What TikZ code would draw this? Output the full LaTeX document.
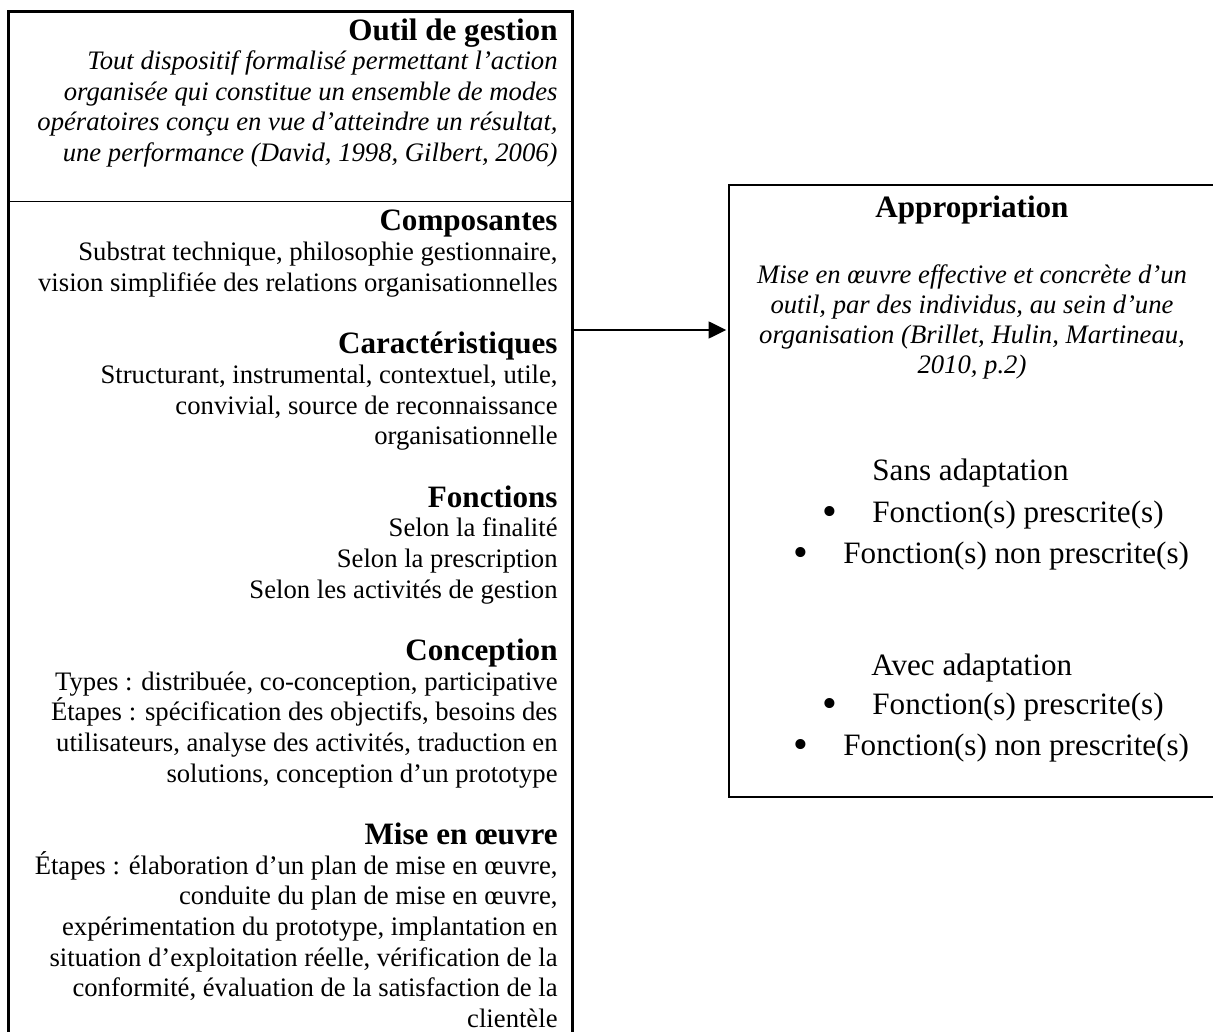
\documentclass[tikz,border=0pt]{standalone}
\usepackage{fontspec}
\setmainfont{Liberation Serif}
\usetikzlibrary{arrows.meta,fit}
\begin{document}
\begin{tikzpicture}[x=0.45pt,y=-0.45pt,
  body/.style={font=\fontsize{12}{13.8}\selectfont, inner sep=0pt, anchor=base east},
  ital/.style={font=\fontsize{12}{13.8}\selectfont\itshape, inner sep=0pt},
  head/.style={font=\fontsize{14}{16}\selectfont\bfseries, inner sep=0pt},
  big/.style={font=\fontsize{14}{16}\selectfont, inner sep=0pt},
  bul/.style={font=\fontsize{19}{20}\selectfont, inner sep=0pt, anchor=base},
  area/.style={inner sep=0pt, draw=none},
  frame/.style={line width=1.2pt, line cap=butt},
  thinframe/.style={line width=0.9pt, line cap=butt},
  divline/.style={line width=0.6pt},
  arrowline/.style={line width=1.2pt, -{Triangle[length=8pt,width=7.5pt]}, shorten >=1pt}]
\useasboundingbox (0,0) rectangle (1213,1032);
% boxes
\node[area, fit={(9,12) (572,201)}] (outil) {};
\node[area, fit={(9,201) (572,1032)}] (comp) {};
\node[area, fit={(729,185) (1213,797)}] (appro) {};
\draw[frame] (comp.south west) -- (outil.north west) -- (outil.north east) -- (comp.south east);
\draw[divline] (outil.south west) -- (outil.south east);
\draw[thinframe] (appro.north east) -- (appro.north west) -- (appro.south west) -- (appro.south east);
% arrow
\coordinate (ay) at (0,330);
\draw[arrowline] (comp.east |- ay) -- (appro.west |- ay);
% left column, top part
\node[head, anchor=base east] (h0) at (558,41) {Outil de gestion};
\node[ital, anchor=base east] (t1) at (558,70) {Tout dispositif formalisé permettant l’action};
\node[ital, anchor=base east] (t2) at (558,101) {organisée qui constitue un ensemble de modes};
\node[ital, anchor=base east] (t3) at (558,131) {opératoires conçu en vue d’atteindre un résultat,};
\node[ital, anchor=base east] (t4) at (558,162) {une performance (David, 1998, Gilbert, 2006)};
% left column, lower part
\node[head, anchor=base east] (k0) at (558,{231+30.67*0}) {Composantes};
\node[body] (k1) at (558,{230+30.67*1}) {Substrat technique, philosophie gestionnaire,};
\node[body] (k2) at (558,{230+30.67*2}) {vision simplifiée des relations organisationnelles};
\node[head, anchor=base east] (k4) at (558,{231+30.67*4}) {Caractéristiques};
\node[body] (k5) at (558,{230+30.67*5}) {Structurant, instrumental, contextuel, utile,};
\node[body] (k6) at (558,{230+30.67*6}) {convivial, source de reconnaissance};
\node[body] (k7) at (558,{230+30.67*7}) {organisationnelle};
\node[head, anchor=base east] (k9) at (558,{231+30.67*9}) {Fonctions};
\node[body] (k10) at (558,{230+30.67*10}) {Selon la finalité};
\node[body] (k11) at (558,{230+30.67*11}) {Selon la prescription};
\node[body] (k12) at (558,{230+30.67*12}) {Selon les activités de gestion};
\node[head, anchor=base east] (k14) at (558,{231+30.67*14}) {Conception};
\node[body] (k15) at (558,{230+30.67*15}) {Types : distribuée, co-conception, participative};
\node[body] (k16) at (558,{230+30.67*16}) {Étapes : spécification des objectifs, besoins des};
\node[body] (k17) at (558,{230+30.67*17}) {utilisateurs, analyse des activités, traduction en};
\node[body] (k18) at (558,{230+30.67*18}) {solutions, conception d’un prototype};
\node[head, anchor=base east] (k20) at (558,{231+30.67*20}) {Mise en œuvre};
\node[body] (k21) at (558,{230+30.67*21}) {Étapes : élaboration d’un plan de mise en œuvre,};
\node[body] (k22) at (558,{230+30.67*22}) {conduite du plan de mise en œuvre,};
\node[body] (k23) at (558,{230+30.67*23}) {expérimentation du prototype, implantation en};
\node[body] (k24) at (558,{230+30.67*24}) {situation d’exploitation réelle, vérification de la};
\node[body] (k25) at (558,{230+30.67*25}) {conformité, évaluation de la satisfaction de la};
\node[body] (k26) at (558,{230+30.67*26}) {clientèle};
% right box
\node[head, anchor=base] (ap) at (972,218) {Appropriation};
\node[ital, anchor=base] (r1) at (972,284) {Mise en œuvre effective et concrète d’un};
\node[ital, anchor=base] (r2) at (972,314) {outil, par des individus, au sein d’une};
\node[ital, anchor=base] (r3) at (972,344) {organisation (Brillet, Hulin, Martineau,};
\node[ital, anchor=base] (r4) at (972,374) {2010, p.2)};
\node[big, anchor=base west] (sa) at (872,481) {Sans adaptation};
\node[bul] (b1) at (830,526) {•};
\node[big, anchor=base west] (f1) at (872,523) {Fonction(s) prescrite(s)};
\node[bul] (b2) at (801,567) {•};
\node[big, anchor=base west] (f2) at (843,564) {Fonction(s) non prescrite(s)};
\node[big, anchor=base west] (aa) at (871,675) {Avec adaptation};
\node[bul] (b3) at (830,717) {•};
\node[big, anchor=base west] (f3) at (872,714) {Fonction(s) prescrite(s)};
\node[bul] (b4) at (801,758) {•};
\node[big, anchor=base west] (f4) at (843,755) {Fonction(s) non prescrite(s)};
\end{tikzpicture}
\end{document}
